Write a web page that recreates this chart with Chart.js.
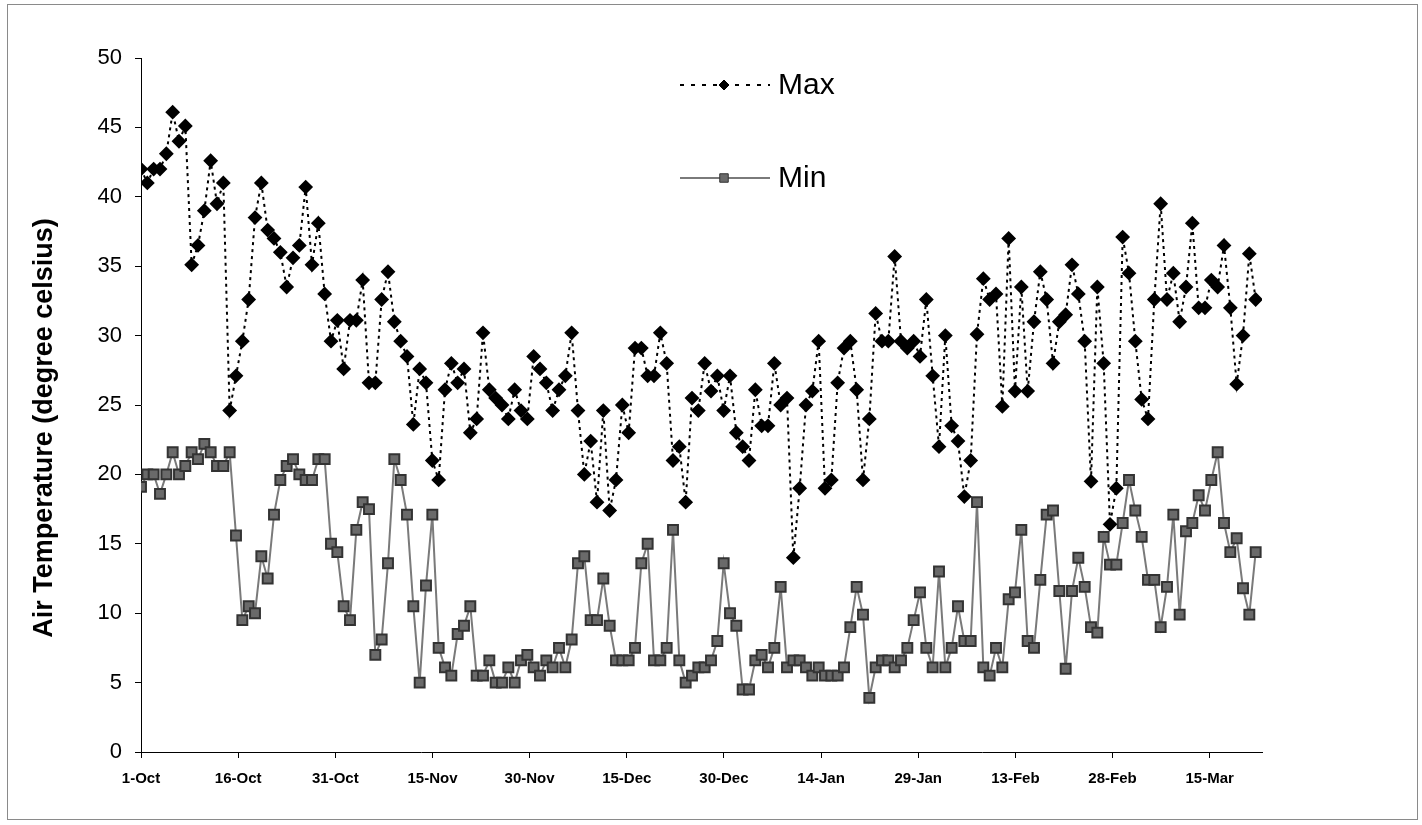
<!DOCTYPE html>
<html>
<head>
<meta charset="utf-8">
<script src="https://cdn.jsdelivr.net/npm/chart.js@4"></script>
<style>
  body { margin: 0; background: #fff; }
  #wrap { width: 1422px; height: 825px; position: relative; }
</style>
</head>
<body>
<div id="wrap"><canvas id="chart"></canvas></div>
<script>
// tick labels, one every 15 days from 1-Oct
const tickLabels = ['1-Oct', '16-Oct', '31-Oct', '15-Nov', '30-Nov', '15-Dec',
    '30-Dec', '14-Jan', '29-Jan', '13-Feb', '28-Feb', '15-Mar'];
// labels in the picture sit about 15.34 points apart
const tickStep = 15.34;

// daily maximum air temperature
const maxTemp = [
    42, 41, 42, 42, 43.1, 46.1, 44, 45.1, 35.1, 36.5, 39, 42.6, 39.5, 41, 24.6,
    27.1, 29.6, 32.6, 38.5, 41, 37.6, 37, 36, 33.5, 35.6, 36.5, 40.7, 35.1, 38.1, 33,
    29.6, 31.1, 27.6, 31.1, 31.1, 34, 26.6, 26.6, 32.6, 34.6, 31, 29.6, 28.5, 23.6, 27.6,
    26.6, 21, 19.6, 26.1, 28, 26.6, 27.6, 23, 24, 30.2, 26.1, 25.5, 25, 24, 26.1,
    24.6, 24, 28.5, 27.6, 26.6, 24.6, 26.1, 27.1, 30.2, 24.6, 20, 22.4, 18, 24.6, 17.4,
    19.6, 25, 23, 29.1, 29.1, 27.1, 27.1, 30.2, 28, 21, 22, 18, 25.5, 24.6, 28,
    26, 27.1, 24.6, 27.1, 23, 22, 21, 26.1, 23.5, 23.5, 28, 25, 25.5, 14, 19,
    25, 26, 29.6, 19, 19.6, 26.6, 29.1, 29.6, 26.1, 19.6, 24, 31.6, 29.6, 29.6, 35.7,
    29.6, 29.1, 29.6, 28.5, 32.6, 27.1, 22, 30, 23.5, 22.4, 18.4, 21, 30.1, 34.1, 32.6,
    33, 24.9, 37, 26, 33.5, 26, 31, 34.6, 32.6, 28, 31, 31.5, 35.1, 33, 29.6,
    19.5, 33.5, 28, 16.4, 19, 37.1, 34.5, 29.6, 25.4, 24, 32.6, 39.5, 32.6, 34.5, 31,
    33.5, 38.1, 32, 32, 34, 33.5, 36.5, 32, 26.5, 30, 35.9, 32.6
];

// daily minimum air temperature
const minTemp = [
    19.1, 20, 20, 18.6, 20, 21.6, 20, 20.6, 21.6, 21.1, 22.2, 21.6, 20.6, 20.6, 21.6,
    15.6, 9.5, 10.5, 10, 14.1, 12.5, 17.1, 19.6, 20.6, 21.1, 20, 19.6, 19.6, 21.1, 21.1,
    15, 14.4, 10.5, 9.5, 16, 18, 17.5, 7, 8.1, 13.6, 21.1, 19.6, 17.1, 10.5, 5,
    12, 17.1, 7.5, 6.1, 5.5, 8.5, 9.1, 10.5, 5.5, 5.5, 6.6, 5, 5, 6.1, 5,
    6.6, 7, 6.1, 5.5, 6.6, 6.1, 7.5, 6.1, 8.1, 13.6, 14.1, 9.5, 9.5, 12.5, 9.1,
    6.6, 6.6, 6.6, 7.5, 13.6, 15, 6.6, 6.6, 7.5, 16, 6.6, 5, 5.5, 6.1, 6.1,
    6.6, 8, 13.6, 10, 9.1, 4.5, 4.5, 6.6, 7, 6.1, 7.5, 11.9, 6.1, 6.6, 6.6,
    6.1, 5.5, 6.1, 5.5, 5.5, 5.5, 6.1, 9, 11.9, 9.9, 3.9, 6.1, 6.6, 6.6, 6.1,
    6.6, 7.5, 9.5, 11.5, 7.5, 6.1, 13, 6.1, 7.5, 10.5, 8, 8, 18, 6.1, 5.5,
    7.5, 6.1, 11, 11.5, 16, 8, 7.5, 12.4, 17.1, 17.4, 11.6, 6, 11.6, 14, 11.9,
    9, 8.6, 15.5, 13.5, 13.5, 16.5, 19.6, 17.4, 15.5, 12.4, 12.4, 9, 11.9, 17.1, 9.9,
    15.9, 16.5, 18.5, 17.4, 19.6, 21.6, 16.5, 14.4, 15.4, 11.8, 9.9, 14.4
];

const yTitle = 'Air Temperature (degree celsius)';
const font = "'Liberation Sans', Arial, sans-serif";

// legend inside the plot, y title and the outer frame
const extras = {
    id: 'extras',
    afterDraw(chart) {
        const ctx = chart.ctx;
        ctx.save();
        ctx.strokeStyle = '#8a8a8a';
        ctx.lineWidth = 1;
        ctx.strokeRect(7.5, 4.5, 1410, 815);

        // y axis title
        ctx.save();
        ctx.translate(45, 428);
        ctx.rotate(-Math.PI / 2);
        ctx.fillStyle = '#000';
        ctx.font = 'bold 27px ' + font;
        ctx.textAlign = 'center';
        ctx.textBaseline = 'middle';
        ctx.fillText(yTitle, 0, 0);
        ctx.restore();

        const rows = [85, 178];
        chart.data.datasets.forEach((ds, i) => {
            const y = rows[i];
            ctx.beginPath();
            ctx.setLineDash(i === 0 ? [4, 7] : []);
            ctx.strokeStyle = ds.borderColor;
            ctx.lineWidth = ds.borderWidth;
            ctx.moveTo(680, y);
            ctx.lineTo(770, y);
            ctx.stroke();
            ctx.setLineDash([]);
            ctx.fillStyle = ds.pointBackgroundColor;
            ctx.strokeStyle = ds.pointBorderColor;
            ctx.lineWidth = 1;
            Chart.helpers.drawPoint(ctx, {
                pointStyle: ds.pointStyle, radius: ds.pointRadius - 1, borderWidth: 1
            }, 724, y);
            ctx.fillStyle = '#000';
            ctx.font = '30px ' + font;
            ctx.textBaseline = 'middle';
            ctx.fillText(ds.label, 778, y + 1);
        });
        ctx.restore();
    }
};

new Chart(document.getElementById('chart'), {
    type: 'line',
    data: {
        labels: maxTemp.map((v, i) => i),
        datasets: [{
            label: 'Max',
            data: maxTemp,
            borderColor: '#000',
            borderWidth: 2,
            borderDash: [3, 4],
            pointStyle: 'rectRot',
            pointRadius: 6,
            pointBackgroundColor: '#000',
            pointBorderColor: '#000',
            tension: 0
        }, {
            label: 'Min',
            data: minTemp,
            borderColor: '#7a7a7a',
            borderWidth: 2,
            pointStyle: 'rect',
            pointRadius: 7,
            pointBackgroundColor: '#6a6a6a',
            pointBorderColor: '#333',
            tension: 0
        }]
    },
    options: {
        responsive: true,
        maintainAspectRatio: false,
        animation: false,
        layout: { padding: { left: 0, top: 58, right: 160, bottom: 0 } },
        plugins: {
            legend: { display: false },
            tooltip: { enabled: false }
        },
        scales: {
            x: {
                type: 'linear',
                min: 0,
                max: 177,
                afterFit: s => { s.height = 73; },
                afterBuildTicks: s => {
                    s.ticks = tickLabels.map((t, i) => ({ value: i * tickStep }));
                },
                grid: { drawOnChartArea: false, tickLength: 6, color: '#000' },
                border: { color: '#000', width: 1 },
                ticks: {
                    autoSkip: false,
                    maxRotation: 0,
                    padding: 12,
                    color: '#000',
                    font: { family: font, size: 15, weight: 'bold' },
                    callback: (v, i) => tickLabels[i]
                }
            },
            y: {
                min: 0,
                max: 50,
                afterFit: s => { s.width = 141; },
                grid: { drawOnChartArea: false, tickLength: 6, color: '#000' },
                border: { color: '#000', width: 1 },
                ticks: {
                    stepSize: 5,
                    color: '#000',
                    padding: 13,
                    font: { family: font, size: 22 }
                }
            }
        }
    },
    plugins: [extras]
});
</script>
</body>
</html>
